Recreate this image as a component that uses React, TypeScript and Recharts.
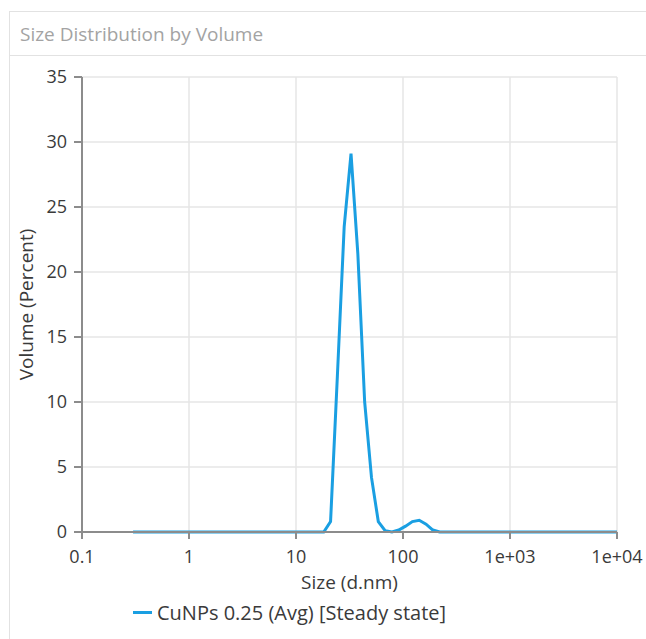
import { CartesianGrid, Line, LineChart, XAxis, YAxis } from "recharts";

// size classes (d.nm) and volume %
const sizes = [
  0.3, 15.69, 18.17, 21.04, 24.36, 28.21, 32.67, 37.84, 43.82, 50.75, 58.77,
  68.06, 78.82, 91.28, 105.7, 122.4, 141.8, 164.2, 190.1, 220.2, 10000,
];
const volumes = [
  0, 0, 0, 0.8, 12, 23.5, 29.1, 21.4, 10, 4.2, 0.8, 0.1, 0, 0.15, 0.45, 0.8,
  0.9, 0.6, 0.15, 0, 0,
];
const xTicks = [0.1, 1, 10, 100, 1000, 10000];
const yTicks = [0, 5, 10, 15, 20, 25, 30, 35];

const seriesName = "CuNPs 0.25 (Avg) [Steady state]";
const lineColor = "#1a9fe2";
const font = "'Open Sans', 'Noto Sans', sans-serif";
const textColor = "#3a3a3a";

const data = sizes.map((s, i) => ({ size: s, volume: volumes[i] }));

const fmtX = (v: number) =>
  v >= 1000 ? v.toExponential(0).replace(/e\+(\d)$/, "e+0$1") : String(v);

const App = () => {
  return (
    <div
      style={{
        position: "absolute",
        left: 0,
        top: 0,
        width: 646,
        height: 639,
        background: "#fff",
        fontFamily: font,
        overflow: "hidden",
      }}
    >
      {/* panel frame */}
      <div
        style={{
          position: "absolute",
          left: 9,
          top: 11,
          width: 660,
          height: 700,
          border: "1px solid #e2e2e2",
        }}
      />
      <div
        style={{
          position: "absolute",
          left: 9,
          top: 55,
          width: 660,
          borderTop: "1px solid #e2e2e2",
        }}
      />
      <div
        style={{
          position: "absolute",
          left: 20,
          top: 21,
          fontSize: 19,
          color: "#a3a3a3",
        }}
      >
        Size Distribution by Volume
      </div>

      <div style={{ position: "absolute", left: 0, top: 0 }}>
        <LineChart
          width={646}
          height={639}
          data={data}
          margin={{ top: 77, right: 29, bottom: 47, left: 0 }}
        >
          <CartesianGrid stroke="#e6e6e6" strokeWidth={1.5} />
          <XAxis
            dataKey="size"
            type="number"
            scale="log"
            domain={[0.1, 10000]}
            ticks={xTicks}
            tickFormatter={fmtX}
            height={60}
            stroke="#8c8c8c"
            strokeWidth={2}
            tickSize={7}
            tickMargin={11}
            tick={{ fill: textColor, fontSize: 18, fontFamily: font }}
            label={{
              value: "Size (d.nm)",
              position: "insideBottom",
              offset: 3,
              fill: textColor,
              fontSize: 19,
              fontFamily: font,
            }}
          />
          <YAxis
            type="number"
            domain={[0, 35]}
            ticks={yTicks}
            width={82}
            stroke="#8c8c8c"
            strokeWidth={2}
            tickSize={8}
            tickMargin={7}
            tick={{ fill: textColor, fontSize: 18, fontFamily: font }}
            label={{
              value: "Volume (Percent)",
              angle: -90,
              position: "center",
              dx: -15,
              fill: textColor,
              fontSize: 19,
              fontFamily: font,
            }}
          />
          <Line
            type="linear"
            dataKey="volume"
            name={seriesName}
            stroke={lineColor}
            strokeWidth={3}
            dot={false}
            isAnimationActive={false}
          />
        </LineChart>
      </div>

      {/* legend */}
      <div
        style={{
          position: "absolute",
          left: 133,
          top: 599,
          display: "flex",
          alignItems: "center",
          gap: 5,
          fontSize: 20,
          color: textColor,
        }}
      >
        <div style={{ width: 19, height: 3, background: lineColor }} />
        <span>{seriesName}</span>
      </div>
    </div>
  );
};

export default App;
